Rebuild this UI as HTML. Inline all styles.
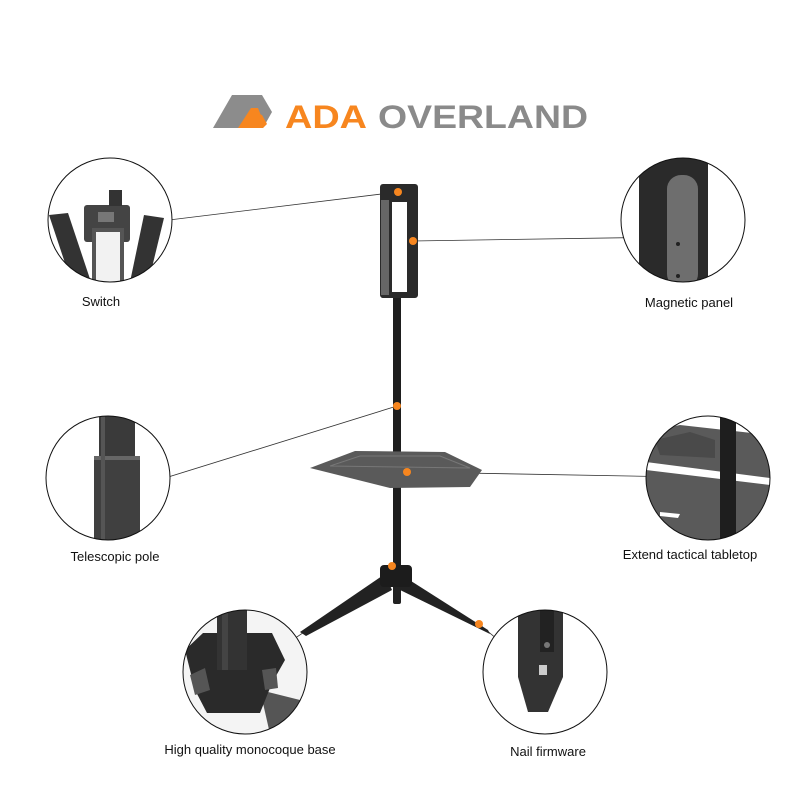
<!DOCTYPE html>
<html><head><style>
html,body{margin:0;padding:0;background:#fff;}
svg{display:block}
text{font-family:"Liberation Sans",sans-serif;}
</style></head><body>
<svg width="800" height="800" viewBox="0 0 800 800">
<rect width="800" height="800" fill="#fff"/>
<polygon points="213,128 232,95 262,95 272,112 263,128" fill="#8c8c8c"/>
<polygon points="247,128 256,113 262,115 267,124 263,128" fill="#f7861f"/>
<polygon points="238,128 251,108 258,108 262,118 256,128" fill="#f7861f"/>
<text x="285" y="128" font-size="32" font-weight="bold" fill="#f7861f" textLength="82" lengthAdjust="spacingAndGlyphs">ADA</text>
<text x="378" y="128" font-size="32" font-weight="bold" fill="#8a8a8a" textLength="210" lengthAdjust="spacingAndGlyphs">OVERLAND</text>

<g stroke="#333" stroke-width="0.8">
<line x1="398" y1="192" x2="120" y2="226"/>
<line x1="413" y1="241" x2="672" y2="237"/>
<line x1="397" y1="406" x2="120" y2="492"/>
<line x1="407" y1="472" x2="685" y2="477"/>
<line x1="385" y1="578" x2="240" y2="675"/>
<line x1="479" y1="624" x2="540" y2="675"/>
</g>

<rect x="380" y="184" width="38" height="114" rx="3" fill="#2a2a2a"/>
<rect x="381" y="200" width="8" height="95" fill="#666"/>
<rect x="392" y="202" width="15" height="90" fill="#fff"/>
<rect x="393" y="298" width="8" height="275" fill="#1e1e1e"/>
<polygon points="310,468 355,451 445,452 482,470 470,487 390,488" fill="#5a5a5a"/>
<polygon points="330,466 360,456 440,456 470,468" fill="none" stroke="#777" stroke-width="1"/>
<polygon points="385,574 300,632 306,636 392,590" fill="#222"/>
<polygon points="400,574 488,630 490,634 396,588" fill="#222"/>
<rect x="393" y="585" width="8" height="19" rx="2" fill="#222"/>
<rect x="380" y="565" width="32" height="22" rx="4" fill="#1c1c1c"/>

<g fill="#f7861f">
<circle cx="398" cy="192" r="4"/><circle cx="413" cy="241" r="4"/>
<circle cx="397" cy="406" r="4"/><circle cx="407" cy="472" r="4"/>
<circle cx="392" cy="566" r="4"/><circle cx="479" cy="624" r="4"/>
</g>

<defs>
<clipPath id="c1"><circle cx="110" cy="220" r="62"/></clipPath>
<clipPath id="c2"><circle cx="683" cy="220" r="62"/></clipPath>
<clipPath id="c3"><circle cx="108" cy="478" r="62"/></clipPath>
<clipPath id="c4"><circle cx="708" cy="478" r="62"/></clipPath>
<clipPath id="c5"><circle cx="245" cy="672" r="62"/></clipPath>
<clipPath id="c6"><circle cx="545" cy="672" r="62"/></clipPath>
</defs>
<g clip-path="url(#c1)">
<rect x="48" y="158" width="124" height="124" fill="#fff"/>
<polygon points="49,215 68,213 91,282 72,284" fill="#333"/>
<polygon points="144,215 164,218 148,284 130,282" fill="#333"/>
<rect x="84" y="205" width="46" height="37" rx="3" fill="#444"/>
<rect x="92" y="228" width="32" height="60" fill="#555"/>
<rect x="96" y="232" width="24" height="56" fill="#f2f2f2"/>
<rect x="98" y="212" width="16" height="10" fill="#777"/>
<rect x="109" y="190" width="13" height="16" fill="#333"/>
</g>
<g clip-path="url(#c2)">
<rect x="620" y="158" width="126" height="124" fill="#fff"/>
<rect x="639" y="158" width="69" height="130" fill="#2a2a2a"/>
<rect x="667" y="175" width="31" height="113" rx="14" fill="#6e6e6e"/>
<circle cx="678" cy="244" r="2" fill="#222"/><circle cx="678" cy="276" r="2" fill="#222"/>
</g>
<g clip-path="url(#c3)">
<rect x="46" y="416" width="124" height="124" fill="#fff"/>
<rect x="99" y="416" width="36" height="45" fill="#3a3a3a"/>
<rect x="94" y="458" width="46" height="84" fill="#404040"/>
<rect x="94" y="456" width="46" height="4" fill="#666"/>
<rect x="101" y="416" width="4" height="124" fill="#555"/>
</g>
<g clip-path="url(#c4)">
<rect x="646" y="416" width="124" height="124" fill="#fff"/>
<polygon points="646,432 680,425 770,435 770,540 646,540" fill="#5a5a5a"/>
<polygon points="655,440 690,432 715,440 715,458 660,455" fill="#4a4a4a"/>
<polygon points="646,462 770,478 770,485 646,470" fill="#fff"/>
<polygon points="660,512 680,514 678,518 660,516" fill="#fff"/>
<rect x="720" y="416" width="16" height="124" fill="#1e1e1e"/>
</g>
<g clip-path="url(#c5)">
<rect x="183" y="610" width="124" height="124" fill="#f4f4f4"/>
<polygon points="260,690 300,700 300,734 270,734" fill="#555"/>
<polygon points="185,650 203,633 272,633 285,660 272,683 260,713 207,713 195,690" fill="#2a2a2a"/>
<rect x="217" y="610" width="30" height="60" fill="#333"/>
<rect x="222" y="610" width="6" height="60" fill="#444"/>
<polygon points="190,675 205,668 210,690 195,695" fill="#555"/>
<polygon points="262,670 276,668 278,688 265,690" fill="#555"/>
</g>
<g clip-path="url(#c6)">
<rect x="483" y="610" width="124" height="124" fill="#fff"/>
<polygon points="518,610 563,610 563,677 548,712 528,712 518,677" fill="#333"/>
<rect x="540" y="610" width="14" height="42" fill="#222"/>
<circle cx="547" cy="645" r="3" fill="#777"/>
<rect x="539" y="665" width="8" height="10" fill="#ccc"/>
</g>
<g fill="none" stroke="#111" stroke-width="1">
<circle cx="110" cy="220" r="62"/><circle cx="683" cy="220" r="62"/>
<circle cx="108" cy="478" r="62"/><circle cx="708" cy="478" r="62"/>
<circle cx="245" cy="672" r="62"/><circle cx="545" cy="672" r="62"/>
</g>

<g font-size="13" fill="#111" text-anchor="middle">
<text x="101" y="306">Switch</text>
<text x="689" y="307">Magnetic panel</text>
<text x="115" y="561">Telescopic pole</text>
<text x="690" y="559">Extend tactical tabletop</text>
<text x="250" y="754">High quality monocoque base</text>
<text x="548" y="756">Nail firmware</text>
</g>
</svg>
</body></html>
